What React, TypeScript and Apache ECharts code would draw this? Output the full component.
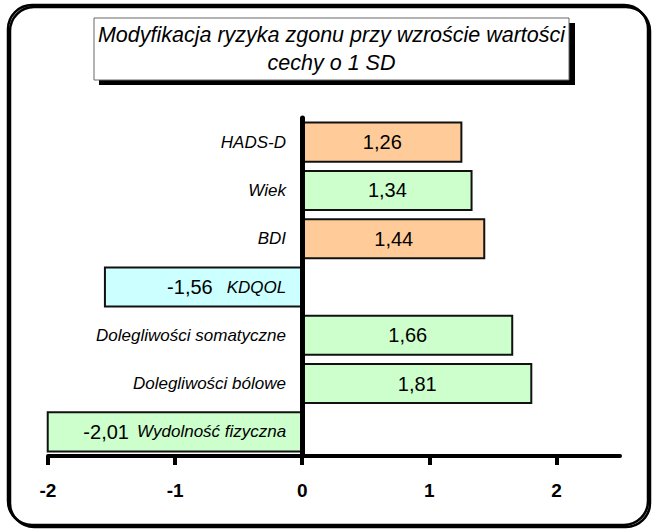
import React, { useEffect, useRef } from "react";
import * as echarts from "echarts";

const categories = [
  "HADS-D",
  "Wiek",
  "BDI",
  "KDQOL",
  "Dolegliwości somatyczne",
  "Dolegliwości bólowe",
  "Wydolność fizyczna",
];
const values = [1.26, 1.34, 1.44, -1.56, 1.66, 1.81, -2.01];
const colorKeys = ["orange", "green", "orange", "cyan", "green", "green", "green"];
const xTickValues = [-2, -1, 0, 1, 2];
const titleLines = ["Modyfikacja ryzyka zgonu przy wzroście wartości", "cechy o 1 SD"];

const FONT = "'Liberation Sans', Arial, sans-serif";
const palette: Record<string, string> = {
  orange: "#FFCC99",
  green: "#CCFFCC",
  cyan: "#CCFFFF",
};
const negGap: Record<string, number> = { KDQOL: 14, "Wydolność fizyczna": 8 };

const fmt = (v: number) => v.toFixed(2).replace(".", ",");

const GRID_LEFT = 48;
const ZERO_X = 302;

export default function App() {
  const ref = useRef<HTMLDivElement>(null);
  useEffect(() => {
    if (!ref.current) return;
    const chart = echarts.init(ref.current, undefined, { renderer: "svg" });
    const data = values.map((v, i) => {
      const name = categories[i];
      const item: any = {
        value: v,
        itemStyle: { color: palette[colorKeys[i]] },
      };
      if (v < 0) {
        item.label = {
          show: true,
          position: "insideRight",
          distance: 16,
          formatter: `{v|${fmt(v)}}{c|${name}}`,
          rich: {
            v: {
              fontSize: 20,
              fontFamily: FONT,
              color: "#000",
              padding: [0, negGap[name] ?? 10, 0, 0],
            },
            c: {
              fontSize: 17,
              fontStyle: "italic",
              fontFamily: FONT,
              color: "#000",
            },
          },
        };
      }
      return item;
    });

    chart.setOption({
      animation: false,
      backgroundColor: "#fff",
      grid: {
        left: GRID_LEFT,
        right: 33,
        top: 118,
        bottom: 74,
        containLabel: false,
        outerBoundsMode: "none",
      },
      xAxis: {
        type: "value",
        min: -2,
        max: 2.5,
        interval: 1,
        splitLine: { show: false },
        axisLine: { show: true, onZero: false, lineStyle: { color: "#000", width: 4 } },
        axisTick: {
          show: true,
          length: 9,
          lineStyle: { color: "#000", width: 4 },
          customValues: xTickValues,
        },
        axisLabel: {
          margin: 25,
          fontSize: 19,
          fontWeight: "bold",
          fontFamily: FONT,
          color: "#000",
          customValues: xTickValues,
          formatter: (v: number) => String(v),
        },
      },
      yAxis: {
        type: "category",
        inverse: true,
        data: categories,
        z: 5,
        axisLine: { show: true, onZero: true, lineStyle: { color: "#000", width: 5 } },
        axisTick: { show: false },
        splitLine: { show: false },
        axisLabel: {
          margin: GRID_LEFT - (ZERO_X - 16),
          fontSize: 17,
          fontStyle: "italic",
          fontFamily: FONT,
          color: "#000",
          formatter: (name: string) => {
            const idx = categories.indexOf(name);
            return values[idx] < 0 ? "" : name;
          },
        },
      },
      series: [
        {
          type: "bar",
          data,
          clip: false,
          barCategoryGap: "15%",
          itemStyle: { borderColor: "#111", borderWidth: 2 },
          label: {
            show: true,
            position: "inside",
            fontSize: 20,
            fontFamily: FONT,
            color: "#000",
            formatter: (p: any) => fmt(p.value),
          },
        },
      ],
      graphic: [
        {
          type: "rect",
          z: -10,
          shape: { x: 8, y: 5, width: 640, height: 520, r: 24 },
          style: {
            fill: "transparent",
            stroke: "#000",
            lineWidth: 2.5,
            shadowColor: "#000",
            shadowOffsetX: 2,
            shadowOffsetY: 2,
            shadowBlur: 0,
          },
          silent: true,
        },
        {
          type: "rect",
          z: 10,
          shape: { x: 99, y: 23, width: 476, height: 62 },
          style: { fill: "#000" },
          silent: true,
        },
        {
          type: "rect",
          z: 11,
          shape: { x: 94, y: 18, width: 475, height: 62 },
          style: { fill: "#fff", stroke: "#666", lineWidth: 1 },
          silent: true,
        },
        {
          type: "text",
          z: 12,
          x: 331.5,
          y: 49,
          style: {
            text: titleLines.join("\n"),
            fontSize: 21.5,
            fontStyle: "italic",
            fontFamily: FONT,
            fill: "#000",
            align: "center",
            verticalAlign: "middle",
            lineHeight: 28,
          },
          silent: true,
        },
      ],
    });
    return () => chart.dispose();
  }, []);
  return (
    <div
      ref={ref}
      style={{ position: "absolute", left: 0, top: 0, width: 653, height: 530 }}
    />
  );
}
